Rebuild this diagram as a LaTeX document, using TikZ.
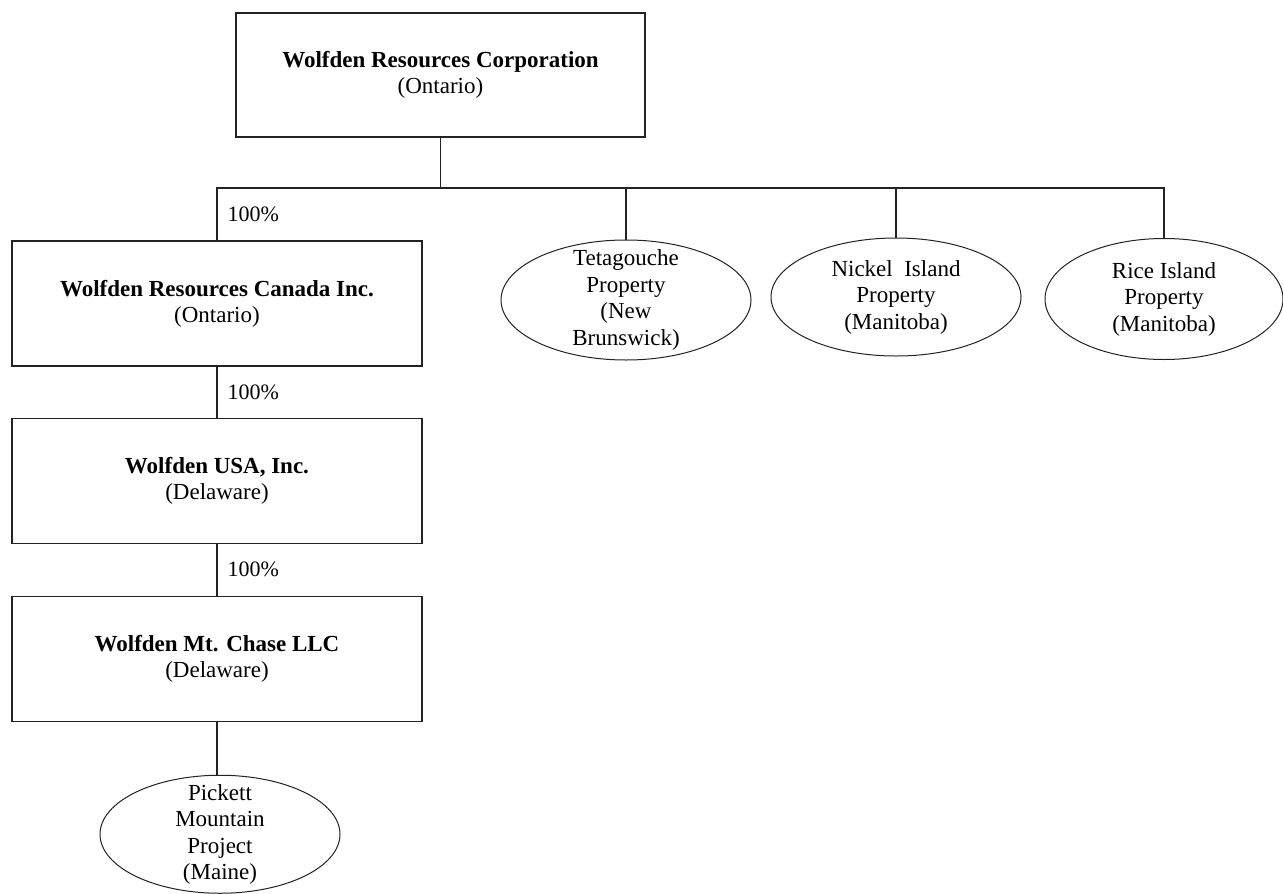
\documentclass[tikz,border=0pt]{standalone}
\usepackage{fontspec}
\setmainfont{Liberation Serif}
\usetikzlibrary{positioning, shapes.geometric}
\definecolor{linecol}{HTML}{222222}

\begin{document}
\begin{tikzpicture}[
    x=1pt, y=-1pt,
    node distance = 51pt,
    entbox/.style = {
        draw=linecol, line width=1.1pt,
        minimum width=410pt, minimum height=125pt,
        align=center, inner sep=0pt,
        font=\fontsize{23}{26}\selectfont
    },
    propell/.style = {
        ellipse, draw=linecol, line width=1pt,
        minimum width=250pt, minimum height=118pt,
        align=center, inner sep=0pt,
        font=\fontsize{23}{26.5}\selectfont
    },
    tallell/.style = {propell, inner ysep=-9pt},
    conn/.style = {draw=linecol, line width=1.1pt},
    pct/.style  = {font=\fontsize{22}{24}\selectfont, inner sep=0pt}
  ]
  \useasboundingbox (0,0) rectangle (1283,894);

  %% Parent
  \node[entbox, minimum width=409pt, minimum height=124pt] (corp) at (440.5,75)
       {\textbf{Wolfden Resources Corporation}\\(Ontario)};

  %% Subsidiary chain
  \node[entbox] (canada) at (217,303.5)
       {\textbf{Wolfden Resources Canada Inc.}\\(Ontario)};
  \node[entbox, below=51pt of canada] (usa)
       {\textbf{Wolfden USA, Inc.}\\(Delaware)};
  \node[entbox, below=52pt of usa] (chase)
       {\textbf{Wolfden Mt. Chase LLC}\\(Delaware)};
  \node[tallell, below=53pt of chase, xshift=3pt,
        minimum width=240pt, minimum height=118pt] (pickett)
       {Pickett\\Mountain\\Project\\(Maine)};

  %% Properties
  \node[tallell, minimum height=120pt] (teta) at (626,300)
       {Tetagouche\\Property\\(New\\Brunswick)};
  \node[propell] (nickel) at (896,297) {Nickel\ \ Island\\Property\\(Manitoba)};
  \node[propell, minimum width=238pt, minimum height=121pt] (rice) at (1164,299)
       {Rice Island\\Property\\(Manitoba)};

  %% Connectors
  \coordinate (bus) at (440.5,188);
  \draw[conn] (corp.south) -- (bus);
  \draw[conn] (canada.north) -- node[pct, right=10pt]{100\%} (canada.north |- bus)
              -- (rice.north |- bus) -- (rice.north);
  \draw[conn] (teta.north) -- (teta.north |- bus);
  \draw[conn] (nickel.north) -- (nickel.north |- bus);
  \draw[conn] (canada.south) -- node[pct, right=10pt]{100\%} (usa.north);
  \draw[conn] (usa.south) -- node[pct, right=10pt]{100\%} (chase.north);
  \draw[conn] (chase.south) -- (chase.south |- pickett.north);

\end{tikzpicture}
\end{document}
